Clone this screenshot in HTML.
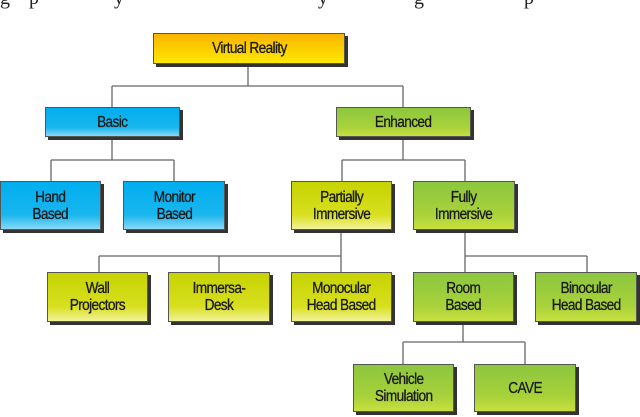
<!DOCTYPE html>
<html><head><style>
body{margin:0;width:640px;height:417px;background:#fff;position:relative;overflow:hidden;font-family:"Liberation Sans",sans-serif}
.b{position:absolute;box-sizing:border-box;border:1px solid #555;box-shadow:3px 3px 0 #333;display:flex;align-items:center;justify-content:center;text-align:center;font-size:15.5px;line-height:17px;color:#1a1a1a;letter-spacing:-0.7px}
.b span{display:inline-block;transform:scaleX(0.88);-webkit-text-stroke:0.3px #1a1a1a}
.o{background:linear-gradient(#f9b400,#ffe800)}
.bl{background:linear-gradient(#00aeef 0%,#19b6ee 70%,#8ad8f5 100%)}
.g{background:linear-gradient(#8cc63f,#a9d23a 70%,#c8e03f)}
.y{background:linear-gradient(#c6d300,#d8df20 70%,#f2f29a)}
.d{position:absolute;top:-13px;font-family:"Liberation Serif",serif;font-size:20px;color:#222}
</style></head><body>
<span class="d" style="left:0">g</span><span class="d" style="left:29px">p</span><span class="d" style="left:114px">y</span><span class="d" style="left:318px">y</span><span class="d" style="left:414px">g</span><span class="d" style="left:524px">p</span>
<svg width="640" height="417" style="position:absolute;left:0;top:0" fill="none" stroke="#666" stroke-width="1.3">
<path d="M248 64V86M112 86H403M112 86V107M403 86V107"/>
<path d="M112 137V160M51 160H174M51 160V181M174 160V181"/>
<path d="M403 137V160M342 160H465M342 160V181M465 160V181"/>
<path d="M341 230V256M99 256H341M99 256V272M219 256V272M341 256V272"/>
<path d="M465 230V256M465 256H587M465 256V272M587 256V272"/>
<path d="M463 322V342M403 342H525M403 342V364M525 342V364"/>
</svg>
<div class="b o" style="left:153px;top:33px;width:192px;height:31px"><span>Virtual Reality</span></div>
<div class="b bl" style="left:45px;top:107px;width:135px;height:30px"><span>Basic</span></div>
<div class="b g" style="left:336px;top:107px;width:135px;height:30px"><span>Enhanced</span></div>
<div class="b bl" style="left:0;top:181px;width:101px;height:49px"><span>Hand<br>Based</span></div>
<div class="b bl" style="left:123px;top:181px;width:102px;height:49px"><span>Monitor<br>Based</span></div>
<div class="b y" style="left:291px;top:181px;width:101px;height:49px"><span>Partially<br>Immersive</span></div>
<div class="b g" style="left:413px;top:181px;width:102px;height:49px"><span>Fully<br>Immersive</span></div>
<div class="b y" style="left:47px;top:272px;width:101px;height:50px"><span>Wall<br>Projectors</span></div>
<div class="b y" style="left:168px;top:272px;width:102px;height:50px"><span>Immersa-<br>Desk</span></div>
<div class="b y" style="left:291px;top:272px;width:101px;height:50px"><span>Monocular<br>Head Based</span></div>
<div class="b g" style="left:413px;top:272px;width:101px;height:50px"><span>Room<br>Based</span></div>
<div class="b g" style="left:535px;top:272px;width:102px;height:50px"><span>Binocular<br>Head Based</span></div>
<div class="b g" style="left:353px;top:364px;width:101px;height:48px"><span>Vehicle<br>Simulation</span></div>
<div class="b g" style="left:474px;top:364px;width:102px;height:48px"><span>CAVE</span></div>
</body></html>
